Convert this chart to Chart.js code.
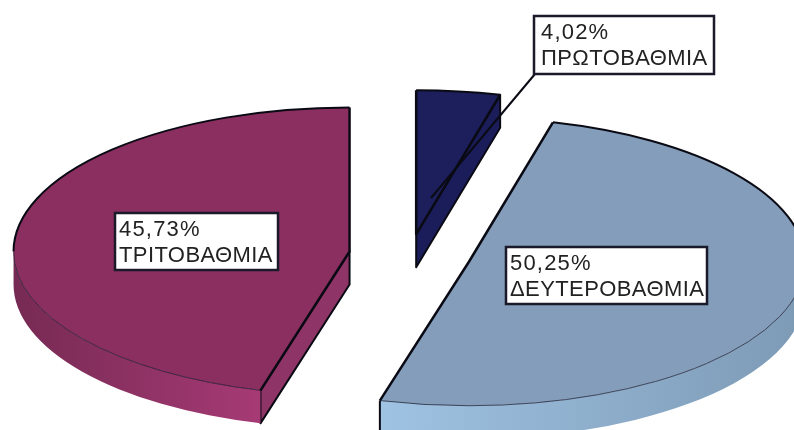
<!DOCTYPE html>
<html>
<head>
  <meta charset="utf-8">
  <title>Εκπαίδευση</title>
  <script src="https://cdn.jsdelivr.net/npm/chart.js"></script>
  <style>
    html, body { margin: 0; background: #fff; overflow: hidden; }
    canvas { display: block; filter: blur(0.4px); }
  </style>
</head>
<body>
  <canvas id="chartCanvas" width="794" height="430"></canvas>
 <script>
  const categories = ["ΠΡΩΤΟΒΑΘΜΙΑ", "ΔΕΥΤΕΡΟΒΑΘΜΙΑ", "ΤΡΙΤΟΒΑΘΜΙΑ"];
  const values = [4.02, 50.25, 45.73];

  const topColors = ["#1d1f5c", "#839dba", "#8a2f60"];
  const sideColors = ["#1b1d5a", "#7f9db9", "#8f3467"];
  const wallFrom = ["#1b1d5a", "#9fc3e3", "#762a53"];
  const wallTo = ["#1b1d5a", "#7d9ab5", "#a63a75"];
  const explode = [49, 61, 61];
  const labelBoxes = [[534, 16, 180, 58], [506, 247, 201, 57], [115, 213, 163, 57]];
  const labelPad = [7, 4, 4];

  const squash = 144 / 336;  // 3D tilt of the pie
  const depth = 33;

  // the arcs come from chart.js, only the tilted look is painted here
  const pie3d = {
    id: "pie3d",
    beforeDatasetsDraw(chart) {
      const ctx = chart.ctx;
      chart.getDatasetMeta(0).data.forEach((arc, i) => {
        const a = arc.getProps(["x", "y", "startAngle", "endAngle", "outerRadius"]);
        drawSlice(ctx, a, i);
      });
      drawLabels(chart);
      return false;
    }
  };

  function drawSlice(ctx, a, i) {
    const mid = (a.startAngle + a.endAngle) / 2;
    const rx = a.outerRadius;
    const ry = rx * squash;
    const cx = a.x + Math.cos(mid) * explode[i];
    const cy = a.y + Math.sin(mid) * explode[i] * squash;
    const pt = (t, dy = 0) => [cx + rx * Math.cos(t), cy + ry * Math.sin(t) + dy];
    const s = a.startAngle, e = a.endAngle;

    ctx.save();
    ctx.lineJoin = "round";

    // side walls on the cut edges
    [[s, -Math.cos(s)], [e, Math.cos(e)]].forEach(([t, facing]) => {
      if (facing <= 0.01) return;
      const p = pt(t);
      ctx.beginPath();
      ctx.moveTo(cx, cy);
      ctx.lineTo(p[0], p[1]);
      ctx.lineTo(p[0], p[1] + depth);
      ctx.lineTo(cx, cy + depth);
      ctx.closePath();
      ctx.fillStyle = sideColors[i];
      ctx.fill();
      ctx.strokeStyle = "#0a0a14";
      ctx.lineWidth = 2;
      ctx.stroke();
    });

    // rim along the front half
    const from = Math.max(s, 0), to = Math.min(e, Math.PI);
    if (to > from) {
      const g = ctx.createLinearGradient(Math.min(pt(from)[0], pt(to)[0]), 0, Math.max(pt(from)[0], pt(to)[0]), 0);
      g.addColorStop(0, wallFrom[i]);
      g.addColorStop(1, wallTo[i]);
      ctx.beginPath();
      ctx.ellipse(cx, cy, rx, ry, 0, from, to);
      ctx.ellipse(cx, cy + depth, rx, ry, 0, to, from, true);
      ctx.closePath();
      ctx.fillStyle = g;
      ctx.fill();
      if (e <= Math.PI) {
        const p = pt(e);
        ctx.beginPath();
        ctx.moveTo(p[0], p[1]);
        ctx.lineTo(p[0], p[1] + depth);
        ctx.strokeStyle = "#0a0a14";
        ctx.lineWidth = 2;
        ctx.stroke();
      }
    }

    // top face
    ctx.beginPath();
    ctx.moveTo(cx, cy);
    ctx.ellipse(cx, cy, rx, ry, 0, s, e);
    ctx.closePath();
    ctx.fillStyle = topColors[i];
    ctx.fill();

    // thin line where the top meets the rim
    if (to > from) {
      ctx.beginPath();
      ctx.ellipse(cx, cy, rx, ry, 0, from, to);
      ctx.strokeStyle = "rgba(20,20,40,0.7)";
      ctx.lineWidth = 1;
      ctx.stroke();
    }

    // heavy outline on the back arc and the two cuts
    ctx.strokeStyle = "#0a0a14";
    ctx.lineWidth = 2;
    if (s < 0 || e > Math.PI) {
      ctx.beginPath();
      if (s < 0) ctx.ellipse(cx, cy, rx, ry, 0, s, Math.min(e, 0));
      else ctx.ellipse(cx, cy, rx, ry, 0, Math.max(s, Math.PI), e);
      ctx.stroke();
    }
    ctx.beginPath();
    const ps = pt(s), pe = pt(e);
    ctx.moveTo(ps[0], ps[1]);
    ctx.lineTo(cx, cy);
    ctx.lineTo(pe[0], pe[1]);
    ctx.lineWidth = 2.5;
    ctx.stroke();
    ctx.restore();
  }

  function drawLabels(chart) {
    const ctx = chart.ctx;
    // leader of the small slice
    ctx.beginPath();
    ctx.moveTo(535, 74);
    ctx.lineTo(431, 198);
    ctx.strokeStyle = "#0a0a14";
    ctx.lineWidth = 2;
    ctx.stroke();

    ctx.font = '22px "Liberation Sans"';
    ctx.textBaseline = "alphabetic";
    categories.forEach((name, i) => {
      const [x, y, w, h] = labelBoxes[i];
      ctx.fillStyle = "#fff";
      ctx.fillRect(x, y, w, h);
      ctx.strokeStyle = "#1a1a2a";
      ctx.lineWidth = 2.5;
      ctx.strokeRect(x, y, w, h);
      ctx.fillStyle = "#222";
      ctx.letterSpacing = "1.2px";
      ctx.fillText(values[i].toFixed(2).replace(".", ",") + "%", x + labelPad[i], y + 23);
      ctx.letterSpacing = "0.4px";
      ctx.fillText(name, x + labelPad[i], y + 49);
    });
  }

  new Chart(document.getElementById("chartCanvas"), {
    type: "pie",
    data: {
      labels: categories,
      datasets: [{
        data: values,
        backgroundColor: topColors,
        radius: 336
      }]
    },
    options: {
      responsive: false,
      animation: false,
      layout: { padding: { left: 26, top: 80 } },
      plugins: { legend: { display: false }, tooltip: { enabled: false } }
    },
    plugins: [pie3d]
  });
</script>
</body>
</html>
